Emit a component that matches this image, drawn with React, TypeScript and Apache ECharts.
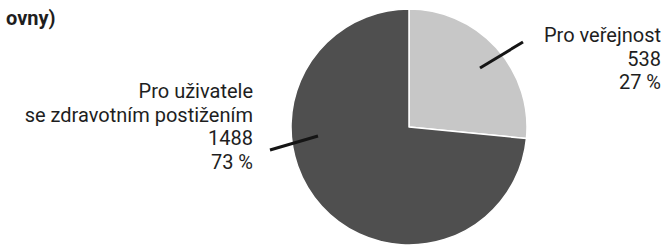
import React, { useEffect, useRef } from "react";
import * as echarts from "echarts";

const categories = ["Pro veřejnost", "Pro uživatele\nse zdravotním postižením"];
const values = [538, 1488];
const sliceColors = ["#c7c7c7", "#4f4f4f"];
const titleText = "ovny)";

export default function App() {
  const ref = useRef<HTMLDivElement>(null);
  useEffect(() => {
    if (!ref.current) return;
    const chart = echarts.init(ref.current, null, { renderer: "svg" });
    const font = "Roboto";
    const total = values.reduce((a, b) => a + b, 0);
    const labelLines = (i: number) => [
      ...categories[i].split("\n"),
      String(values[i]),
      `${Math.round((values[i] / total) * 100)} %`,
    ];
    const labelPos = [
      { x: 661, y: 25 },
      { x: 253, y: 81 },
    ];
    const lineHeight = 23.5;
    const textEls: any[] = [];
    categories.forEach((_, i) => {
      labelLines(i).forEach((line, k) => {
        textEls.push({
          type: "text",
          z: 100,
          x: labelPos[i].x,
          y: labelPos[i].y + k * lineHeight,
          style: {
            text: line,
            font: "20px Roboto",
            fill: "#1e1e1e",
            align: "right",
            verticalAlign: "top",
          },
        });
      });
    });
    chart.setOption({
      animation: false,
      backgroundColor: "#ffffff",
      title: {
        text: titleText,
        left: 1,
        top: 3,
        textStyle: { fontFamily: font, fontSize: 20, fontWeight: "bold", color: "#1e1e1e" },
      },
      graphic: [
        {
          type: "line",
          z: 100,
          shape: { x1: 480, y1: 68, x2: 523, y2: 42 },
          style: { stroke: "#151515", lineWidth: 3 },
        },
        {
          type: "line",
          z: 100,
          shape: { x1: 270, y1: 150, x2: 318, y2: 136 },
          style: { stroke: "#151515", lineWidth: 3 },
        },
        ...textEls,
      ],
      series: [
        {
          type: "pie",
          center: [409, 127],
          radius: 118,
          startAngle: 90,
          clockwise: true,
          itemStyle: { borderColor: "#ffffff", borderWidth: 1.5 },
          label: { show: false },
          labelLine: { show: false },
          emphasis: { disabled: true },
          data: categories.map((name, i) => ({
            name,
            value: values[i],
            itemStyle: { color: sliceColors[i] },
          })),
        },
      ],
    });
    return () => chart.dispose();
  }, []);
  return (
    <div
      ref={ref}
      style={{ position: "fixed", left: 0, top: 0, width: 668, height: 248 }}
    />
  );
}
